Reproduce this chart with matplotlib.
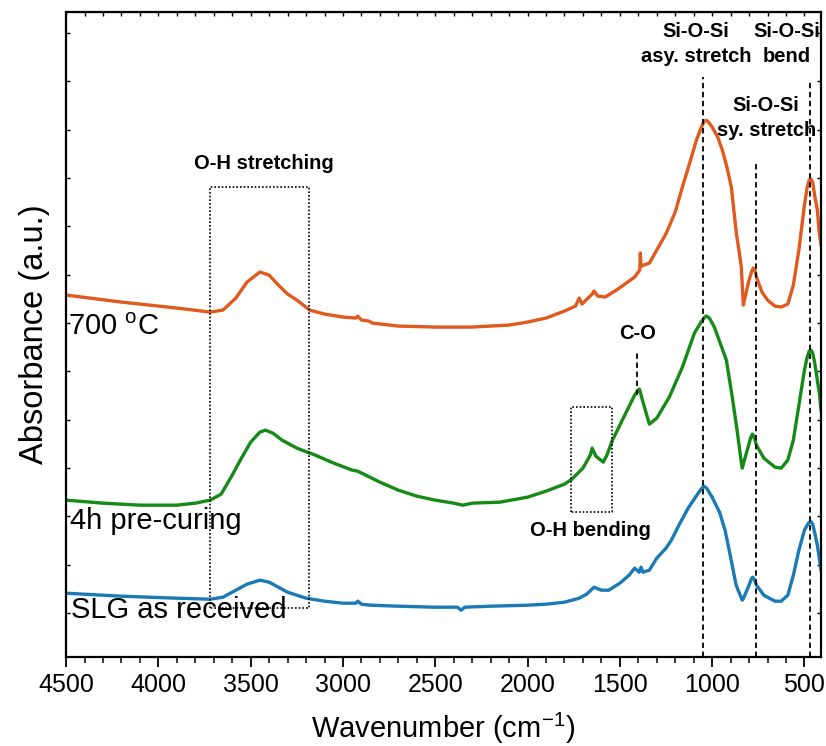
import numpy as np
import matplotlib
matplotlib.use("Agg")
import matplotlib.pyplot as plt
from matplotlib.ticker import MultipleLocator

plt.rcParams["font.family"] = "Liberation Sans"
plt.rcParams["mathtext.fontset"] = "custom"
plt.rcParams["mathtext.rm"] = "Liberation Sans"

# 700 C sample
wn_700 = [4500, 4200, 3900, 3720, 3650, 3580, 3520, 3450, 3400, 3350, 3300, 3250, 3180, 3100,
          3000, 2930, 2920, 2900, 2860, 2840, 2700, 2500, 2300, 2100, 2000, 1900, 1800, 1740,
          1720, 1705, 1650, 1640, 1620, 1580, 1518, 1420, 1392, 1389, 1385, 1340, 1300, 1248,
          1200, 1161, 1120, 1085, 1060, 1050, 1042, 1030, 1020, 1000, 970, 945, 920, 896, 869,
          855, 842, 831, 820, 800, 785, 777, 768, 760, 730, 700, 660, 626, 590, 560, 530, 500,
          485, 474, 465, 455, 445, 430, 420, 410]
abs_700 = [0.724, 0.710, 0.698, 0.690, 0.694, 0.718, 0.750, 0.770, 0.764, 0.744, 0.726, 0.714,
           0.694, 0.686, 0.680, 0.678, 0.682, 0.674, 0.672, 0.668, 0.662, 0.660, 0.660, 0.664,
           0.670, 0.678, 0.692, 0.702, 0.718, 0.706, 0.726, 0.732, 0.722, 0.720, 0.734, 0.760,
           0.774, 0.808, 0.782, 0.788, 0.814, 0.848, 0.890, 0.940, 0.990, 1.034, 1.058, 1.066,
           1.072, 1.073, 1.070, 1.060, 1.040, 1.014, 0.980, 0.940, 0.848, 0.814, 0.780, 0.704,
           0.722, 0.754, 0.772, 0.778, 0.774, 0.760, 0.730, 0.714, 0.702, 0.700, 0.706, 0.744,
           0.814, 0.904, 0.940, 0.954, 0.956, 0.950, 0.924, 0.894, 0.850, 0.824]

# 4h pre-curing
wn_4h = [4500, 4300, 4100, 3900, 3800, 3720, 3660, 3600, 3550, 3500, 3450, 3420, 3380, 3330,
         3250, 3150, 3050, 2950, 2920, 2800, 2700, 2600, 2500, 2400, 2350, 2300, 2150, 2000,
         1900, 1800, 1760, 1700, 1660, 1650, 1630, 1590, 1570, 1540, 1500, 1460, 1420, 1400,
         1394, 1370, 1340, 1300, 1232, 1161, 1096, 1060, 1040, 1031, 1015, 988, 923, 891, 865,
         845, 837, 810, 790, 782, 772, 760, 720, 660, 626, 590, 560, 530, 500, 485, 474, 465,
         455, 445, 430, 418, 410]
abs_4h = [0.314, 0.308, 0.304, 0.304, 0.308, 0.314, 0.326, 0.364, 0.398, 0.430, 0.450, 0.454,
          0.448, 0.434, 0.418, 0.404, 0.388, 0.374, 0.372, 0.350, 0.334, 0.322, 0.314, 0.308,
          0.304, 0.308, 0.310, 0.320, 0.332, 0.346, 0.356, 0.378, 0.404, 0.418, 0.402, 0.390,
          0.404, 0.434, 0.464, 0.494, 0.524, 0.534, 0.536, 0.504, 0.466, 0.478, 0.520, 0.580,
          0.648, 0.670, 0.680, 0.682, 0.678, 0.660, 0.594, 0.520, 0.454, 0.398, 0.378, 0.414,
          0.440, 0.446, 0.440, 0.424, 0.398, 0.380, 0.378, 0.394, 0.434, 0.504, 0.574, 0.600,
          0.612, 0.614, 0.608, 0.590, 0.554, 0.524, 0.494]

# SLG as received
wn_slg = [4500, 4200, 3900, 3720, 3650, 3580, 3520, 3450, 3400, 3350, 3300, 3200, 3100, 3000,
          2930, 2920, 2900, 2850, 2700, 2500, 2380, 2360, 2340, 2200, 2000, 1900, 1800, 1720,
          1680, 1640, 1600, 1560, 1500, 1450, 1420, 1395, 1385, 1375, 1340, 1300, 1250, 1221,
          1180, 1130, 1090, 1060, 1045, 1030, 1000, 960, 930, 900, 870, 837, 830, 800, 788, 780,
          772, 760, 720, 660, 626, 590, 560, 530, 500, 485, 474, 465, 455, 445, 430, 418, 410]
abs_slg = [0.128, 0.122, 0.118, 0.116, 0.120, 0.134, 0.146, 0.154, 0.150, 0.140, 0.130, 0.118,
           0.112, 0.108, 0.108, 0.112, 0.106, 0.104, 0.102, 0.100, 0.100, 0.094, 0.100, 0.102,
           0.104, 0.106, 0.110, 0.118, 0.126, 0.140, 0.134, 0.134, 0.148, 0.164, 0.178, 0.170,
           0.180, 0.170, 0.174, 0.198, 0.218, 0.234, 0.264, 0.298, 0.320, 0.336, 0.342, 0.338,
           0.320, 0.290, 0.254, 0.200, 0.144, 0.114, 0.118, 0.144, 0.156, 0.160, 0.156, 0.144,
           0.124, 0.112, 0.112, 0.124, 0.164, 0.214, 0.254, 0.264, 0.270, 0.271, 0.266, 0.250,
           0.224, 0.194, 0.174]

peak_lines = [1050, 760, 472]
peak_tops = [1.160, 0.988, 1.150]

fig = plt.figure(figsize=(8.26, 7.46), dpi=100)
ax = fig.add_axes([0.080, 0.119, 0.914, 0.865])

ax.plot(wn_700, abs_700, color="#e05a1e", lw=2.4, solid_joinstyle="round")
ax.plot(wn_4h, abs_4h, color="#168a16", lw=2.4, solid_joinstyle="round")
ax.plot(wn_slg, abs_slg, color="#1a7ab5", lw=2.4, solid_joinstyle="round")

# dashed guide lines
for x, top in zip(peak_lines, peak_tops):
    ax.plot([x, x], [0, top], color="black", ls=(0, (3, 2)), lw=1.3)
ax.plot([1405, 1405], [0.524, 0.608], color="black", ls=(0, (3, 2)), lw=1.3)

# dotted boxes
ax.plot([3720, 3720, 3185, 3185, 3720], [0.098, 0.940, 0.940, 0.098, 0.098],
        color="black", ls=(0, (1, 1.2)), lw=1.2)
ax.plot([1762, 1762, 1545, 1545, 1762], [0.290, 0.500, 0.500, 0.290, 0.290],
        color="black", ls=(0, (1, 1.2)), lw=1.2)

bold = dict(fontsize=14.5, fontweight="bold", ha="center", va="center", linespacing=1.45)
ax.text(3429, 0.988, "O-H stretching", **bold)
ax.text(1659, 0.254, "O-H bending", **bold)
ax.text(1405, 0.648, "C-O", **bold)
ax.text(1086, 1.226, "Si-O-Si\nasy. stretch", **bold)
ax.text(593, 1.226, "Si-O-Si\nbend", **bold)
ax.text(707, 1.078, "Si-O-Si\nsy. stretch", **bold)

lab = dict(fontsize=21, va="center", ha="left")
ax.text(4488, 0.660, r"700 $^{\mathregular{o}}$C", **lab)
ax.text(4480, 0.272, "4h pre-curing", **lab)
ax.text(4475, 0.094, "SLG as received", **lab)

ax.set_xlim(4500, 410)
ax.set_ylim(0, 1.29)
ax.xaxis.set_major_locator(MultipleLocator(500))
ax.xaxis.set_minor_locator(MultipleLocator(100))
ax.set_yticks(np.linspace(0.088, 1.248, 13))
ax.set_yticklabels([])
ax.tick_params(axis="x", which="major", direction="out", length=7, width=1.3,
               labelsize=18, pad=4, top=False)
ax.tick_params(axis="x", which="minor", direction="out", length=4, width=1.1, top=False)
ax.tick_params(axis="y", which="major", direction="in", length=3, width=1.0, right=True)
for s in ax.spines.values():
    s.set_linewidth(1.6)

# small inward ticks on the top spine
sec = ax.secondary_xaxis("top")
sec.xaxis.set_major_locator(MultipleLocator(100))
sec.tick_params(direction="in", length=3, width=1.0, labelsize=0)
sec.set_xticklabels([])

ax.set_xlabel(r"Wavenumber (cm$^{\mathregular{-1}}$)", fontsize=21, labelpad=10)
ax.set_ylabel("Absorbance (a.u.)", fontsize=23.5, labelpad=8)

fig.savefig("out.png", dpi=100)
